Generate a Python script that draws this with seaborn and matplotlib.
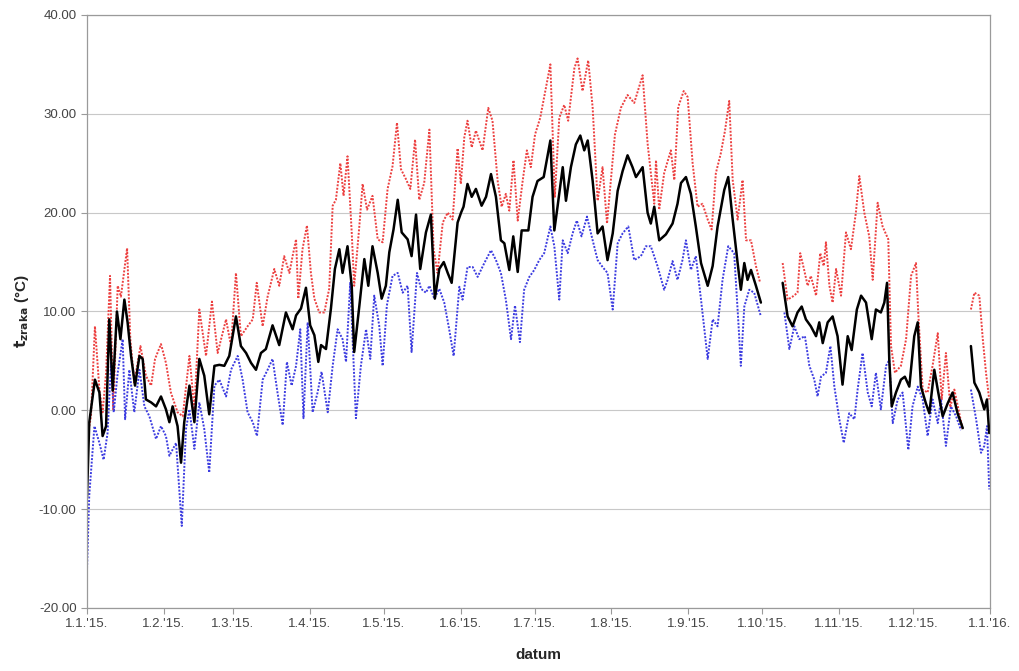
import numpy as np
import pandas as pd
import matplotlib
matplotlib.use("Agg")
import matplotlib.pyplot as plt
from matplotlib.ticker import FormatStrFormatter
import seaborn as sns

nan = np.nan
START = pd.Timestamp("2015-01-01")

mean_day = [0, 0.9, 3.2, 5.0, 6.3, 7.7, 9.0, 10.4, 12.1, 13.5, 15.1, 16.4, 17.8, 19.4, 21.2, 22.5,
            23.8, 25.9, 27.9, 29.9, 31.9, 33.3, 34.6, 36.6, 38.0, 39.3, 41.4, 43.4, 45.4, 47.4, 49.4,
            51.5, 53.5, 55.5, 57.5, 60.2, 62.2, 64.3, 66.3, 68.3, 70.3, 72.3, 75.0, 77.7, 80.4, 83.1,
            84.5, 86.5, 88.5, 90.2, 91.9, 93.5, 94.6, 96.6, 98.6, 100.2, 102.0, 103.3, 105.3, 107.0,
            108.0, 110.1, 112.1, 113.7, 115.4, 117.5, 119.1, 120.8, 122.2, 123.9, 125.6, 127.2, 129.6,
            131.2, 133.0, 134.7, 137.0, 139.0, 140.6, 142.4, 144.2, 145.8, 147.4, 149.8, 151.2, 152.2,
            153.8, 155.5, 157.2, 159.5, 161.3, 163.3, 165.3, 167.3, 168.7, 170.7, 172.3, 174.1, 175.7,
            178.4, 180.1, 182.1, 184.6, 187.3, 188.9, 190.2, 192.3, 193.6, 195.6, 197.6, 199.4, 201.0,
            202.4, 204.4, 206.4, 208.4, 210.4, 212.5, 214.5, 216.5, 218.5, 220.5, 221.9, 224.6, 226.6,
            227.9, 229.3, 231.3, 234.0, 236.7, 238.7, 240.1, 242.1, 244.1, 246.1, 248.2, 250.9, 252.9,
            254.9, 257.6, 259.2, 261.0, 263.0, 264.3, 265.7, 267.0, 268.4, 270.4, 272.4, 276.0, 281.2,
            283.2, 285.2, 287.2, 288.9, 290.6, 292.6, 294.7, 296.0, 297.4, 299.4, 301.4, 303.4, 305.4,
            307.5, 309.1, 311.2, 312.9, 314.9, 317.2, 318.9, 320.9, 322.3, 323.4, 324.3, 325.3, 327.0,
            329.0, 330.6, 332.4, 334.4, 335.8, 337.1, 339.1, 340.5, 342.5, 344.1, 345.9, 347.9, 349.9,
            351.9, 354.0, 355.5, 357.3, 358.7, 360.7, 362.7, 363.8, 364.7]
mean_t = [-8.7, -1.2, 3.1, 1.8, -2.6, -1.6, 9.2, 2.0, 10.0, 7.2, 11.2, 8.9, 5.5, 2.5, 5.5, 5.2,
          1.1, 0.8, 0.4, 1.4, 0.1, -1.2, 0.4, -1.6, -5.3, -1.2, 2.5, -1.2, 5.2, 3.5, -0.4,
          4.5, 4.6, 4.5, 5.5, 9.5, 6.5, 5.8, 4.8, 4.1, 5.8, 6.2, 8.6, 6.6, 9.9, 8.2,
          9.6, 10.3, 12.4, 8.6, 7.6, 4.9, 6.6, 6.2, 10.3, 14.3, 16.3, 13.9, 16.6, 12.6,
          5.9, 10.6, 15.3, 12.6, 16.6, 13.9, 11.3, 12.6, 16.0, 18.3, 21.3, 18.0, 17.3,
          15.6, 19.8, 14.3, 18.0, 19.8, 11.3, 14.3, 15.0, 13.9, 12.9, 19.0, 20.0, 20.6,
          22.9, 21.6, 22.4, 20.7, 21.6, 23.9, 21.6, 17.2, 16.9, 14.2, 17.6, 14.0, 18.2,
          18.2, 21.6, 23.2, 23.6, 27.3, 18.2, 20.6, 24.6, 21.2, 24.6, 26.9, 27.8, 26.3,
          27.3, 23.2, 17.9, 18.6, 15.2, 17.9, 22.2, 24.2, 25.8, 24.6, 23.6, 24.6, 20.0,
          18.9, 20.6, 17.2, 17.8, 18.9, 20.9, 23.0, 23.6, 21.9, 18.6, 14.9, 12.6, 14.6,
          18.6, 22.3, 23.6, 19.3, 14.9, 12.2, 14.9, 13.2, 14.2, 12.6, 10.9, nan, 12.9,
          9.5, 8.5, 9.9, 10.5, 9.2, 8.5, 7.5, 8.9, 6.8, 8.9, 9.5, 7.5, 2.6,
          7.5, 6.1, 10.2, 11.6, 10.9, 7.2, 10.2, 9.9, 10.9, 12.9, 5.1, 0.4, 1.8,
          3.1, 3.4, 2.4, 7.5, 8.9, 2.4, 0.7, -0.3, 4.1, 1.8, -0.6, 0.7, 1.8,
          -0.3, -1.8, nan, 6.5, 2.8, 1.8, 0.1, 1.1, -2.3]

max_day = [0, 1.6, 3.2, 5.0, 6.3, 7.7, 9.3, 10.6, 12.4, 13.7, 16.2, 17.5, 19.1, 21.6, 23.8, 25.9,
           27.5, 29.9, 31.9, 33.9, 36.6, 38.7, 41.4, 43.4, 45.4, 48.1, 50.5, 52.8, 56.2, 58.2, 60.2,
           62.2, 64.9, 67.0, 68.6, 71.0, 73.0, 75.7, 77.7, 79.7, 81.8, 83.1, 84.5, 85.4, 87.1, 88.9,
           90.5, 91.9, 93.9, 95.9, 97.9, 99.3, 100.6, 102.4, 103.7, 105.3, 107.0, 108.0, 110.1, 111.4,
           113.2, 115.4, 117.5, 119.5, 121.5, 123.5, 125.3, 126.9, 128.9, 130.7, 132.6, 134.3, 136.3,
           138.4, 140.1, 141.7, 143.8, 145.8, 147.8, 149.8, 151.1, 152.5, 153.8, 155.5, 157.2, 159.9,
           162.2, 163.9, 166.0, 167.6, 169.3, 170.7, 172.4, 174.1, 176.1, 177.8, 179.4, 181.1, 183.2,
           185.5, 187.3, 189.1, 190.9, 192.9, 194.5, 197.0, 198.3, 200.3, 202.6, 204.4, 206.4, 208.4,
           210.2, 211.5, 213.4, 215.8, 218.5, 221.2, 224.6, 226.6, 229.3, 230.0, 231.3, 233.3, 236.0,
           237.4, 239.0, 241.2, 242.8, 244.8, 246.8, 248.8, 250.9, 252.5, 254.2, 256.2, 257.9, 259.6,
           261.0, 263.0, 265.0, 266.4, 268.4, 270.4, 272.1, 276.0, 281.2, 283.2, 285.2, 287.2, 288.3,
           289.9, 291.3, 292.6, 294.7, 296.4, 297.8, 298.7, 300.1, 301.4, 302.8, 304.8, 306.8, 308.8,
           310.8, 312.2, 314.2, 316.2, 317.6, 319.6, 321.6, 323.9, 325.0, 326.6, 329.0, 331.1, 333.1,
           335.1, 336.0, 337.8, 339.8, 341.8, 343.9, 345.5, 347.2, 349.0, 350.6, 352.6, 354.0, 355.5,
           357.3, 358.7, 360.7, 362.1, 363.4, 364.7]
max_t = [-3.0, -0.6, 8.5, 2.1, -0.2, 3.8, 13.6, 0.1, 12.6, 11.5, 16.4, 7.2, 2.8, 6.5, 3.5, 2.5,
         5.2, 6.7, 4.8, 1.8, -0.2, -0.6, 5.5, 0.1, 10.2, 5.5, 11.0, 5.8, 9.2, 6.5, 13.9,
         7.5, 8.5, 9.2, 12.9, 8.5, 11.5, 14.3, 12.6, 15.6, 13.9, 15.6, 17.3, 11.3, 16.3, 18.7,
         13.9, 11.3, 9.9, 9.9, 12.3, 20.7, 21.3, 25.0, 21.7, 25.7, 18.0, 12.6, 18.7, 22.9,
         20.3, 21.7, 17.3, 17.0, 22.4, 24.7, 29.1, 24.4, 23.4, 22.4, 27.4, 21.3, 23.0,
         28.4, 16.3, 13.9, 19.0, 20.0, 19.3, 26.5, 22.9, 27.6, 29.3, 26.6, 28.3, 26.3,
         30.6, 29.3, 23.2, 20.6, 21.9, 20.2, 25.3, 19.2, 23.2, 26.3, 24.6, 27.9, 29.6,
         32.6, 35.0, 21.6, 29.6, 30.9, 29.3, 34.6, 35.6, 32.3, 35.4, 30.6, 21.2, 24.6,
         18.9, 22.6, 27.9, 30.6, 31.9, 31.1, 33.9, 27.0, 20.9, 25.3, 20.3, 24.0, 26.3,
         23.3, 30.7, 32.3, 31.7, 25.0, 20.6, 20.9, 19.3, 18.3, 24.0, 26.0, 28.3, 31.3,
         23.3, 19.3, 23.3, 17.2, 17.2, 14.6, 12.9, nan, 14.9, 11.2, 11.5, 11.9, 15.9,
         14.2, 12.6, 13.6, 11.6, 15.9, 14.6, 17.0, 12.6, 10.9, 14.3, 11.6, 18.0, 16.3,
         20.0, 23.7, 20.0, 17.6, 13.2, 21.0, 18.6, 17.3, 6.5, 3.8, 4.5, 7.2, 13.6,
         14.9, 9.9, 2.1, 1.8, 4.5, 7.8, 1.1, 5.8, 0.3, 2.1, -0.3, -2.0, nan,
         10.2, 11.9, 11.6, 7.2, 3.8, 1.1]

min_day = [0, 0.9, 3.0, 5.0, 6.7, 8.3, 9.7, 10.8, 12.4, 14.4, 15.4, 17.1, 19.1, 21.2, 23.2, 25.2,
           27.9, 29.9, 31.9, 33.3, 36.0, 38.3, 40.0, 41.4, 43.4, 45.4, 47.4, 49.4, 51.5, 53.5, 56.2,
           58.2, 60.9, 62.9, 64.9, 67.0, 68.7, 71.0, 73.0, 75.0, 77.0, 79.1, 80.8, 82.7, 84.5, 86.2,
           87.5, 89.2, 91.2, 93.2, 94.8, 97.3, 99.3, 101.3, 103.3, 104.7, 106.4, 108.7, 110.7, 112.8,
           114.5, 116.1, 118.1, 119.5, 121.2, 123.5, 125.6, 127.6, 129.6, 131.2, 133.4, 135.0, 137.0,
           138.4, 140.4, 142.4, 144.4, 146.4, 148.2, 150.5, 151.8, 153.8, 155.9, 157.9, 160.6, 163.3,
           165.3, 167.3, 169.3, 171.4, 173.0, 175.0, 176.7, 178.8, 180.8, 182.8, 184.8, 187.3, 188.9,
           190.9, 192.3, 194.3, 196.3, 198.0, 199.9, 202.1, 204.4, 206.4, 208.4, 210.4, 212.5, 214.5,
           216.5, 218.8, 221.2, 223.9, 225.9, 227.9, 230.6, 233.3, 234.7, 236.7, 238.7, 240.7, 242.1,
           244.1, 246.1, 248.2, 250.9, 252.9, 254.9, 256.9, 259.2, 261.6, 263.3, 264.3, 265.7, 267.7,
           269.7, 272.4, 276.0, 281.9, 283.9, 285.9, 287.9, 290.2, 292.0, 294.0, 295.3, 296.7, 298.7,
           300.5, 302.1, 304.1, 305.9, 308.1, 310.2, 311.5, 313.5, 315.6, 317.2, 318.9, 320.9, 323.0,
           324.3, 325.7, 327.7, 329.7, 332.0, 333.7, 335.8, 337.8, 339.8, 341.8, 343.9, 345.2, 347.2,
           349.2, 351.3, 353.3, 355.5, 357.3, 359.4, 361.4, 362.7, 363.8, 364.7]
min_t = [-16.0, -8.6, -1.6, -3.3, -5.0, -2.3, 4.8, -0.2, 3.8, 7.2, -0.9, 4.1, -0.2, 4.1, 0.4, -0.6,
         -2.9, -1.6, -2.6, -4.6, -3.3, -11.7, -1.9, 0.1, -3.9, 0.8, -1.9, -6.3, 2.5, 3.1, 1.4,
         4.1, 5.5, 3.1, -0.2, -1.2, -2.6, 3.1, 4.1, 5.2, 1.8, -1.5, 4.9, 2.5, 4.5, 8.2,
         -0.8, 8.9, -0.2, 1.8, 3.9, -0.2, 4.5, 8.2, 7.2, 4.9, 12.9, -0.8, 4.5, 8.2,
         5.2, 11.6, 8.6, 4.5, 10.6, 13.6, 13.9, 11.9, 12.6, 5.9, 13.9, 12.3, 11.9,
         12.6, 11.3, 12.3, 10.9, 8.2, 5.5, 12.5, 11.2, 14.5, 14.5, 13.5, 14.9, 16.2,
         15.2, 13.9, 11.2, 7.2, 10.6, 6.9, 12.2, 13.5, 14.2, 15.2, 15.9, 18.6, 16.6,
         11.2, 17.2, 15.9, 17.9, 19.2, 17.6, 19.6, 17.2, 15.2, 14.5, 13.9, 10.2, 16.9,
         17.9, 18.6, 15.2, 15.6, 16.6, 16.6, 14.6, 12.2, 13.2, 15.1, 13.2, 15.2, 17.2,
         14.2, 15.6, 11.2, 5.2, 9.2, 8.5, 13.2, 16.6, 15.9, 8.9, 4.5, 10.5, 12.2,
         11.9, 9.5, nan, 9.9, 6.2, 8.5, 7.2, 7.5, 4.5, 3.1, 1.4, 3.4, 3.8,
         6.5, 2.4, -0.9, -3.3, -0.3, -0.9, 2.1, 5.8, 1.8, 0.4, 3.8, 0.1, 4.5,
         5.1, -1.3, 1.1, 1.8, -4.0, 0.4, 2.4, 1.1, -2.6, 1.1, -1.3, 1.1, -3.6,
         0.4, -0.6, -2.0, nan, 2.1, -0.9, -4.3, -3.6, -1.6, -8.0]

month_starts = pd.date_range("2015-01-01", "2016-01-01", freq="MS")
month_labels = [f"{d.day}.{d.month}.'{d:%y}." for d in month_starts]
y_ticks = [-20, -10, 0, 10, 20, 30, 40]


def to_frame(days, vals):
    df = pd.DataFrame({"day": days, "t": vals})
    # every nan starts a new segment so the line breaks there
    df["seg"] = df["t"].isna().cumsum()
    df = df.dropna().copy()
    df["datum"] = START + pd.to_timedelta(df["day"], unit="D")
    return df


sns.set_style("white")
plt.rcParams["font.family"] = ["Liberation Sans", "DejaVu Sans"]

fig = plt.figure(figsize=(10.19, 6.71), dpi=100)
ax = fig.add_axes([0.0854, 0.0939, 0.8861, 0.8838])

dots = (0, (1, 0.8))
sns.lineplot(data=to_frame(max_day, max_t), x="datum", y="t", units="seg", estimator=None,
             color="#ec4040", lw=1.4, linestyle=dots, ax=ax)
sns.lineplot(data=to_frame(min_day, min_t), x="datum", y="t", units="seg", estimator=None,
             color="#3c3ce0", lw=1.4, linestyle=dots, ax=ax)
sns.lineplot(data=to_frame(mean_day, mean_t), x="datum", y="t", units="seg", estimator=None,
             color="black", lw=1.8, ax=ax)

ax.set_xlim(month_starts[0], month_starts[-1])
ax.set_ylim(-20, 40)
ax.set_xticks(month_starts)
ax.set_xticklabels(month_labels)
ax.set_yticks(y_ticks)
ax.yaxis.set_major_formatter(FormatStrFormatter("%.2f"))

ax.yaxis.grid(True, color="#c8c8c8", lw=0.8)
ax.xaxis.grid(False)
for sp in ax.spines.values():
    sp.set_color("#9a9a9a")
    sp.set_linewidth(0.9)
ax.tick_params(axis="both", which="major", bottom=True, left=True, direction="out",
               length=4, width=0.8, color="#9a9a9a", labelsize=9.5, labelcolor="#444444")

ax.set_xlabel("datum", fontsize=11, fontweight="bold", labelpad=13)
ax.set_ylabel(r"$\mathbf{t}_{\mathbf{zraka}}$ (°C)", fontsize=11, fontweight="bold", labelpad=6)

fig.savefig("out.png", dpi=100)
